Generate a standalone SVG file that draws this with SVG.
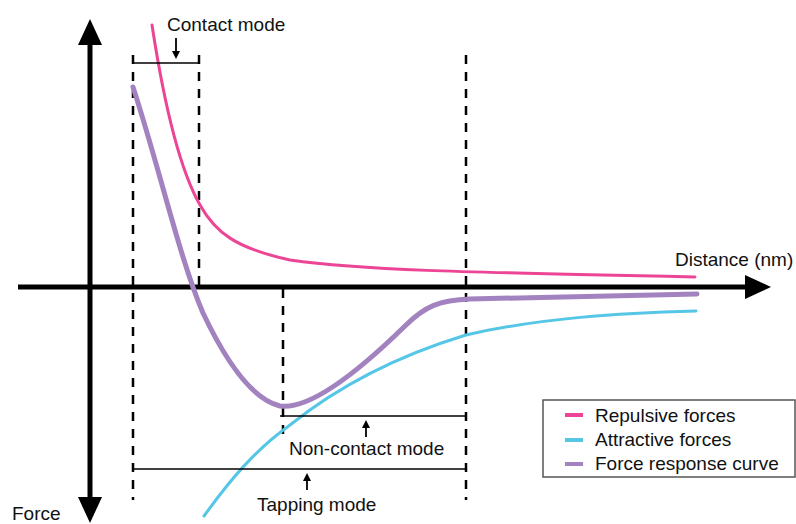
<svg xmlns="http://www.w3.org/2000/svg" width="796" height="524" viewBox="0 0 796 524">
<style>
text{font-family:"Liberation Sans",Arial,sans-serif;font-size:19px;fill:#111}
.dash{stroke:#000;stroke-width:2.5;stroke-dasharray:9,8;fill:none}
.br{stroke:#000;stroke-width:1.6;fill:none}
.c{fill:none;stroke-linecap:round}
</style>
<defs>
<marker id="sa" markerWidth="8" markerHeight="8" refX="4" refY="4" orient="auto" markerUnits="userSpaceOnUse" viewBox="0 0 8 8"><path d="M0,0 L8,4 L0,8 Z" fill="#000"/></marker>
</defs>
<g id="axes">
<line x1="90" y1="40" x2="90" y2="502" stroke="#000" stroke-width="5"/>
<polygon points="90,19 78,45 102,45" fill="#000"/>
<polygon points="90,523 78,497 102,497" fill="#000"/>
<line x1="18" y1="287" x2="750" y2="287" stroke="#000" stroke-width="5"/>
<polygon points="771,287 745,275 745,299" fill="#000"/>
<text x="675" y="266">Distance (nm)</text>
<text x="12" y="520">Force</text>
</g>
<g id="guides">
<line class="dash" x1="133" y1="55" x2="133" y2="500"/>
<line class="dash" x1="199" y1="55" x2="199" y2="287"/>
<line class="dash" x1="283" y1="289" x2="283" y2="434"/>
<line class="dash" x1="466" y1="55" x2="466" y2="500"/>
</g>
<g id="curves">
<path class="c" d="M152,25 C165,110 180,170 200,205 C215,232 235,248 290,260 C360,270 450,272 695,277" stroke="#ec4596" stroke-width="3"/>
<path class="c" d="M204,516 C230,480 255,450 290,425 C340,385 400,355 466,335 C540,318 620,313 696,311" stroke="#55c6e6" stroke-width="3"/>
<path class="c" d="M133,87 C160,170 180,260 203,313 C230,370 255,400 280,406 C310,410 360,370 405,326 C425,306 440,300 470,299 L697,294" stroke="#a383bf" stroke-width="5"/>
</g>
<g id="contact-mode">
<path class="br" d="M133,63 L199,63"/>
<line x1="176" y1="38" x2="176" y2="55" stroke="#000" stroke-width="1.8" marker-end="url(#sa)"/>
<text x="167" y="31">Contact mode</text>
</g>
<g id="non-contact-mode">
<path class="br" d="M280,416 L466,416"/>
<line x1="366" y1="437" x2="366" y2="424" stroke="#000" stroke-width="1.8" marker-end="url(#sa)"/>
<text x="289" y="455">Non-contact mode</text>
</g>
<g id="tapping-mode">
<path class="br" d="M133,469 L466,469"/>
<line x1="307" y1="490" x2="307" y2="477" stroke="#000" stroke-width="1.8" marker-end="url(#sa)"/>
<text x="257" y="511">Tapping mode</text>
</g>
<g id="legend">
<rect x="543" y="400" width="252" height="77" fill="#fff" stroke="#555" stroke-width="1.5"/>
<line x1="565" y1="415" x2="583" y2="415" stroke="#ec4596" stroke-width="4"/>
<line x1="565" y1="440" x2="583" y2="440" stroke="#55c6e6" stroke-width="4"/>
<line x1="565" y1="464" x2="583" y2="464" stroke="#a383bf" stroke-width="4"/>
<text x="595" y="422">Repulsive forces</text>
<text x="595" y="446">Attractive forces</text>
<text x="595" y="470">Force response curve</text>
</g>
</svg>
